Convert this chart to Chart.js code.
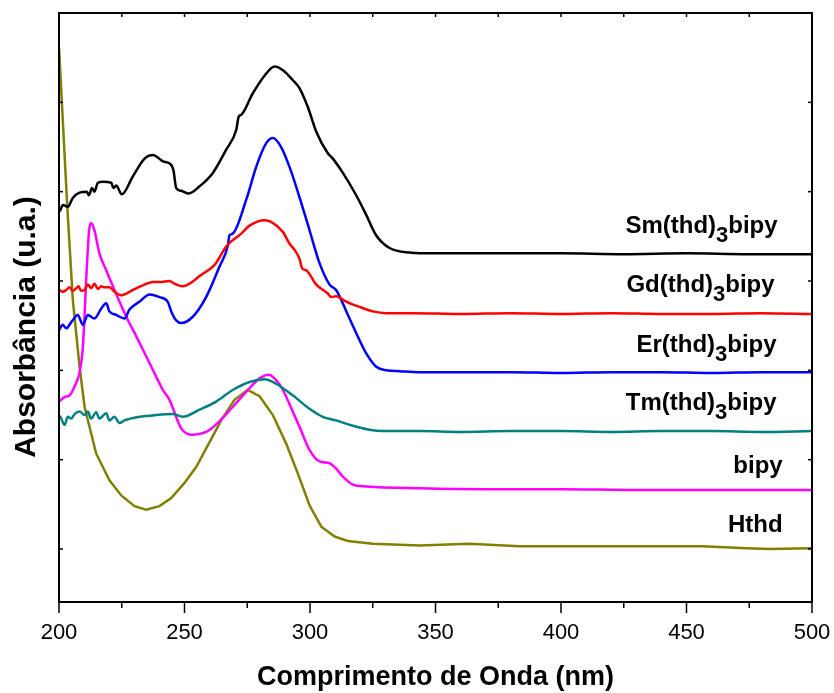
<!DOCTYPE html>
<html>
<head>
<meta charset="utf-8">
<script src="https://cdn.jsdelivr.net/npm/chart.js@4.4.1/dist/chart.umd.min.js"></script>
<style>
    html, body { margin: 0; padding: 0; background: #fff; }
</style>
</head>
<body>
<canvas id="espectros" width="834" height="693"></canvas>
<script>
/* ═══════════════════════════════════════════
   Espectros UV-Vis — Ln(thd)3bipy, bipy, Hthd
═══════════════════════════════════════════ */

// ── Dados (nm / absorbância deslocada, u.a.) ──
const smNm  = [200.0, 200.2, 201.5, 203.5, 205.5, 208.2, 211.1, 211.9, 213.2, 214.1, 215.5, 217.5, 220.8, 221.7, 222.8, 225.0, 229.4, 234.1, 237.4, 241.4, 244.7, 245.6, 246.7, 248.7, 251.7, 256.0, 261.3, 266.6, 270.6, 271.6, 272.6, 277.2, 282.5, 285.9, 289.2, 293.1, 295.8, 299.1, 302.5, 307.1, 309.1, 313.1, 318.4, 322.4, 326.4, 331.7, 339.6, 350, 375, 400, 425, 450, 475, 500];
const smAbs = [3.82, 3.78, 3.85, 3.83, 3.93, 3.99, 4.00, 3.96, 4.04, 4.00, 4.10, 4.11, 4.10, 4.04, 4.07, 3.97, 4.17, 4.37, 4.41, 4.34, 4.30, 4.24, 4.04, 4.01, 3.98, 4.06, 4.21, 4.47, 4.69, 4.84, 4.86, 5.10, 5.32, 5.40, 5.36, 5.25, 5.16, 4.95, 4.67, 4.43, 4.37, 4.21, 3.96, 3.74, 3.51, 3.37, 3.32, 3.31, 3.31, 3.31, 3.30, 3.31, 3.30, 3.30];

const gdNm  = [200.0, 201.5, 202.9, 204.2, 205.5, 206.9, 207.8, 208.8, 210.2, 211.5, 212.8, 214.1, 215.5, 216.8, 218.1, 220.1, 222.1, 224.8, 226.8, 230.1, 234.1, 237.4, 240.7, 244.0, 246.0, 249.3, 252.0, 256.7, 262.0, 266.7, 272.6, 275.9, 281.9, 284.7, 289.2, 291.8, 293.8, 295.8, 296.9, 298.5, 302.5, 307.1, 308.4, 310.4, 314.4, 319.7, 325.0, 330.4, 341.0, 360, 380, 400, 420, 440, 460, 480, 500];
const gdAbs = [2.90, 2.88, 2.90, 2.93, 2.89, 2.92, 2.94, 2.89, 2.90, 2.96, 2.92, 2.97, 2.91, 2.94, 2.93, 2.93, 2.88, 2.84, 2.86, 2.91, 2.96, 2.99, 2.99, 3.00, 2.97, 2.94, 2.97, 3.07, 3.18, 3.39, 3.53, 3.62, 3.68, 3.66, 3.55, 3.42, 3.35, 3.25, 3.14, 3.12, 2.96, 2.86, 2.82, 2.83, 2.77, 2.71, 2.66, 2.64, 2.64, 2.63, 2.64, 2.63, 2.64, 2.63, 2.63, 2.64, 2.63];

const erNm  = [200.0, 201.5, 202.9, 204.9, 207.5, 209.5, 211.5, 214.1, 216.8, 218.8, 220.1, 222.8, 226.1, 228.1, 232.1, 236.1, 240.0, 243.3, 244.7, 246.7, 248.7, 253.3, 258.6, 263.9, 267.3, 267.9, 269.2, 274.6, 278.6, 282.5, 285.2, 288.5, 291.8, 295.8, 299.8, 303.8, 307.8, 310.4, 315.1, 319.7, 322.4, 326.4, 330.4, 335.7, 343.6, 360, 380, 400, 420, 440, 460, 480, 500];
const erAbs = [2.45, 2.51, 2.47, 2.54, 2.62, 2.51, 2.62, 2.58, 2.69, 2.75, 2.66, 2.62, 2.58, 2.68, 2.77, 2.85, 2.82, 2.77, 2.66, 2.56, 2.53, 2.60, 2.82, 3.16, 3.40, 3.51, 3.53, 3.91, 4.28, 4.54, 4.60, 4.50, 4.28, 3.94, 3.57, 3.20, 2.96, 2.90, 2.62, 2.34, 2.19, 2.04, 2.00, 1.99, 1.98, 1.98, 1.98, 1.97, 1.98, 1.98, 1.97, 1.98, 1.98];

const tmNm  = [200.0, 200.2, 202.2, 203.5, 204.9, 206.2, 208.2, 210.2, 211.5, 212.8, 214.8, 216.1, 218.8, 220.1, 222.1, 224.1, 226.1, 232.1, 238.7, 245.3, 249.3, 256.0, 262.6, 269.2, 275.9, 281.9, 286.5, 293.1, 299.8, 305.1, 310.4, 317.1, 325.0, 334.3, 343.6, 360, 380, 400, 420, 440, 460, 480, 500];
const tmAbs = [1.46, 1.49, 1.39, 1.48, 1.46, 1.51, 1.54, 1.50, 1.54, 1.46, 1.53, 1.46, 1.52, 1.44, 1.48, 1.41, 1.44, 1.48, 1.50, 1.51, 1.48, 1.56, 1.65, 1.78, 1.87, 1.90, 1.85, 1.72, 1.57, 1.48, 1.44, 1.38, 1.33, 1.32, 1.32, 1.31, 1.32, 1.32, 1.31, 1.32, 1.32, 1.31, 1.32];

const bpNm  = [200.0, 202.2, 204.2, 206.2, 208.2, 209.5, 211.1, 212.0, 212.8, 214.1, 216.1, 218.8, 222.1, 226.8, 230.8, 236.1, 241.4, 244.0, 248.7, 252.7, 258.6, 263.9, 269.2, 274.6, 279.9, 283.6, 286.5, 289.2, 293.1, 295.8, 299.8, 303.8, 307.8, 310.4, 313.1, 317.1, 322.4, 343.6, 370, 400, 430, 460, 500];
const bpAbs = [1.65, 1.70, 1.72, 1.82, 1.98, 2.26, 3.16, 3.57, 3.65, 3.57, 3.31, 3.12, 2.90, 2.60, 2.38, 2.08, 1.78, 1.67, 1.35, 1.28, 1.31, 1.43, 1.59, 1.76, 1.91, 1.95, 1.89, 1.78, 1.54, 1.37, 1.11, 0.98, 0.96, 0.90, 0.81, 0.72, 0.70, 0.68, 0.67, 0.67, 0.66, 0.66, 0.66];

const htNm  = [200.0, 203.3, 205.5, 208.2, 210.2, 214.8, 220.1, 224.8, 230.1, 234.7, 240.0, 244.7, 250.0, 254.7, 259.3, 264.6, 269.9, 275.2, 279.9, 285.2, 290.5, 295.1, 299.8, 304.5, 309.8, 315.1, 325.0, 343.6, 363.5, 383.4, 410.0, 436.5, 456.4, 473.8, 483.1, 500.0];
const htAbs = [5.62, 3.83, 2.79, 2.04, 1.59, 1.07, 0.77, 0.60, 0.48, 0.44, 0.48, 0.57, 0.74, 0.92, 1.16, 1.44, 1.67, 1.78, 1.71, 1.50, 1.18, 0.85, 0.49, 0.25, 0.14, 0.09, 0.06, 0.04, 0.06, 0.03, 0.03, 0.03, 0.03, 0.01, 0.00, 0.01];

const nomes  = ['Sm(thd)3bipy', 'Gd(thd)3bipy', 'Er(thd)3bipy', 'Tm(thd)3bipy', 'bipy', 'Hthd'];
const cores  = ['#000000', '#ff0000', '#0000ff', '#008080', '#ff00ff', '#808000'];
const xTicks = [200, 250, 300, 350, 400, 450, 500];

// posição dos rótulos (borda direita em nm, linha de base em u.a.)
const rotulos = [
    { x: 486.3, y: 3.54 },
    { x: 485.1, y: 2.88 },
    { x: 485.9, y: 2.21 },
    { x: 485.9, y: 1.56 },
    { x: 488.3, y: 0.85 },
    { x: 488.3, y: 0.19 }
];

const FONTE = "'Liberation Sans', Arial, Helvetica, sans-serif";

function pares(xs, ys) {
    return xs.map((x, i) => ({ x, y: ys[i] }));
}

const series = [
    pares(smNm, smAbs), pares(gdNm, gdAbs), pares(erNm, erAbs),
    pares(tmNm, tmAbs), pares(bpNm, bpAbs), pares(htNm, htAbs)
];

// ── Moldura, marcas, títulos e rótulos ──────────
const moldura = {
    id: 'moldura',
    afterDraw(chart) {
        const { ctx, chartArea: a, scales: { x, y } } = chart;
        ctx.save();
        ctx.strokeStyle = '#000';
        ctx.lineWidth = 2;
        ctx.strokeRect(a.left, a.top, a.right - a.left, a.bottom - a.top);

        const linha = (x1, y1, x2, y2) => {
            ctx.beginPath(); ctx.moveTo(x1, y1); ctx.lineTo(x2, y2); ctx.stroke();
        };
        ctx.lineWidth = 1.5;
        for (let v = x.min; v <= x.max; v += 25) {
            const px = x.getPixelForValue(v);
            const maior = v % 50 === 0;
            linha(px, a.bottom, px, a.bottom + (maior ? 11 : 6));
            linha(px, a.top, px, a.top + 4);
        }
        for (let v = 0; v <= y.max; v++) {
            const py = y.getPixelForValue(v);
            linha(a.left, py, a.left + 4, py);
            linha(a.right, py, a.right - 4, py);
        }

        // títulos dos eixos
        ctx.fillStyle = '#000';
        ctx.textAlign = 'center';
        ctx.textBaseline = 'middle';
        ctx.font = 'bold 27px ' + FONTE;
        ctx.fillText('Comprimento de Onda (nm)', (a.left + a.right) / 2, 678);
        ctx.save();
        ctx.translate(27, 327);
        ctx.rotate(-Math.PI / 2);
        ctx.font = 'bold 30px ' + FONTE;
        ctx.fillText('Absorbância (u.a.)', 0, 0);
        ctx.restore();

        // rótulos das curvas com subscrito
        ctx.textBaseline = 'alphabetic';
        ctx.textAlign = 'left';
        const fN = 'bold 24px ' + FONTE;
        const fS = 'bold 22px ' + FONTE;
        nomes.forEach((nome, i) => {
            const partes = nome.split(/(\d)/).filter(p => p !== '');
            let largura = 0;
            partes.forEach(p => {
                ctx.font = /^\d$/.test(p) ? fS : fN;
                largura += ctx.measureText(p).width;
            });
            let cx = x.getPixelForValue(rotulos[i].x) - largura;
            const by = y.getPixelForValue(rotulos[i].y);
            partes.forEach(p => {
                const sub = /^\d$/.test(p);
                ctx.font = sub ? fS : fN;
                ctx.fillText(p, cx, sub ? by + 9 : by);
                cx += ctx.measureText(p).width;
            });
        });
        ctx.restore();
    }
};

new Chart(document.getElementById('espectros'), {
    type: 'line',
    data: {
        datasets: series.map((pts, i) => ({
            label: nomes[i],
            data: pts,
            borderColor: cores[i],
            borderWidth: 2.5,
            pointRadius: 0,
            fill: false,
            // Hthd foi medido em passos largos: mantém os segmentos retos
            cubicInterpolationMode: nomes[i] === 'Hthd' ? 'default' : 'monotone',
            tension: 0
        }))
    },
    options: {
        responsive: false,
        animation: false,
        devicePixelRatio: 1,
        layout: { padding: { top: 13, right: 22, left: 0, bottom: 0 } },
        plugins: {
            legend:  { display: false },
            tooltip: { enabled: false }
        },
        scales: {
            x: {
                type: 'linear',
                min: 200,
                max: 500,
                afterBuildTicks: s => { s.ticks = xTicks.map(v => ({ value: v })); },
                afterFit: s => { s.height = 91; },
                grid:   { display: false, drawTicks: true, tickLength: 15 },
                border: { display: false },
                ticks:  { color: '#000', padding: 3, font: { size: 22, family: FONTE } }
            },
            y: {
                min: -0.593,
                max: 6,
                afterFit: s => { s.width = 59; },
                grid:   { display: false },
                border: { display: false },
                ticks:  { display: false }
            }
        }
    },
    plugins: [moldura]
});
</script>
</body>
</html>
